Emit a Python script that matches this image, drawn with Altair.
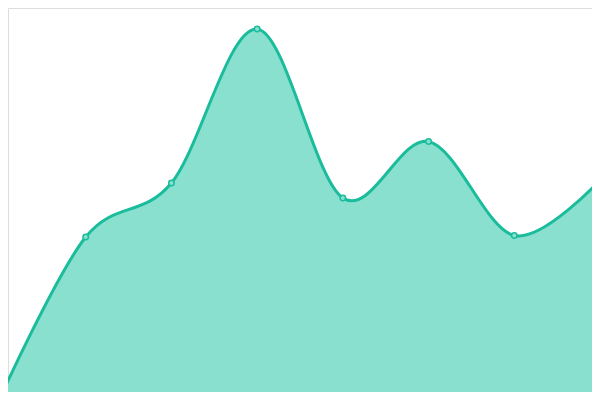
import altair as alt
import pandas as pd

idx = [0, 1, 2, 3, 4, 5, 6, 7]
values = [2, 163, 217, 371, 202, 258.5, 164.5, 220]

df = pd.DataFrame({"i": idx, "v": values})

LINE = "#1abc9c"
FILL = "#8ae0cf"

x = alt.X("i:Q", axis=None, scale=alt.Scale(domain=[0, 7], range=[-8, 592], nice=False, zero=False))
y = alt.Y("v:Q", axis=None, scale=alt.Scale(domain=[0, 400], range=[392, -8], nice=False, zero=False))

base = alt.Chart(df).encode(x=x, y=y)

area = base.mark_area(interpolate="cardinal", color=FILL, opacity=1)
line = base.mark_line(interpolate="cardinal", color=LINE, strokeWidth=3)
pts = base.mark_point(filled=True, fill=FILL, stroke=LINE, strokeWidth=1.5, size=30, opacity=1, shape="circle")

chart = (
    alt.layer(area, line, pts)
    .properties(width=584, height=384, padding=0, autosize=alt.AutoSizeParams(type="none"))
    .configure_view(strokeWidth=0, stroke="transparent")
    .configure(background="white")
)

chart.save("out.html", embed_options={"renderer": "svg", "actions": False})
